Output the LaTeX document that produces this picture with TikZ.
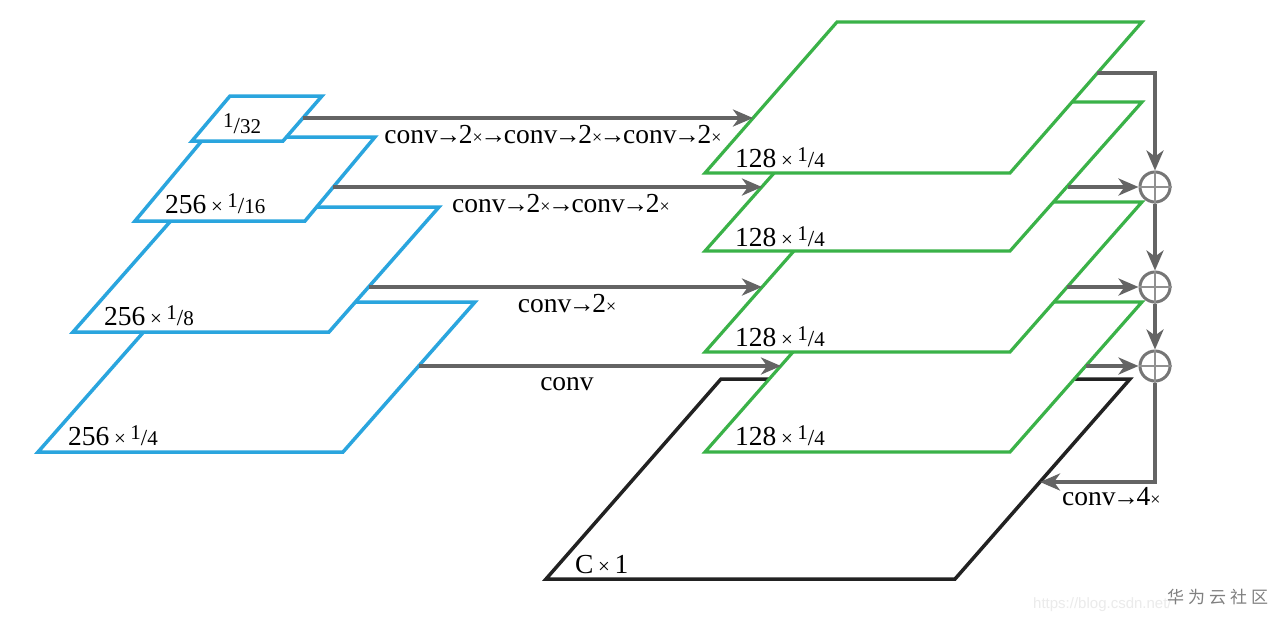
\documentclass[tikz,border=0pt]{standalone}
\usepackage{fontspec}
\setmainfont{Liberation Serif}
\newfontfamily\cjk{Noto Sans CJK SC}
\newfontfamily\wmsans{Liberation Sans}
\usetikzlibrary{arrows.meta}
\definecolor{pblue}{RGB}{42,165,222}
\definecolor{pgreen}{RGB}{58,178,72}
\definecolor{pblack}{RGB}{34,34,34}
\definecolor{agray}{RGB}{100,100,100}
\definecolor{cgray}{RGB}{118,118,118}
\newcommand\fa{\fontsize{27.5}{27.5}\selectfont}
\newcommand\tms{{\fontsize{21}{21}\selectfont ×}}
\newcommand\tmc{{\fontsize{18}{18}\selectfont ×}}
\newcommand\arw{{\fontsize{26}{26}\selectfont\kern-2.5pt→\kern-2.5pt}}
\newcommand\frc[2]{\raisebox{6pt}{\fontsize{21}{21}\selectfont #1}{\fontsize{23}{23}\selectfont /}{\fontsize{21}{21}\selectfont #2}}
\newcommand\dimlab[3]{#1\,\tms\,\frc{#2}{#3}}
\begin{document}
\begin{tikzpicture}[x=1pt,y=-1pt,
  bplane/.style={draw=pblue,line width=3.5pt,fill=white,line join=miter},
  gplane/.style={draw=pgreen,line width=3.2pt,fill=white,line join=miter},
  kplane/.style={draw=pblack,line width=3.5pt,fill=white,line join=miter},
  conn/.style={draw=agray,line width=3.5pt,-{Stealth[length=20pt,width=17pt,inset=6pt]}},
  addnode/.style={circle,draw=cgray,line width=3pt,minimum size=30pt,inner sep=0pt},
  pluslines/.style={draw=cgray!80,line width=1.2pt},
  lab/.style={anchor=base west,inner sep=0pt,font=\fa},
  clab/.style={anchor=base,inner sep=0pt,font=\fa}]
\useasboundingbox (0,0) rectangle (1288,622);
\fill[white] (0,0) rectangle (1288,622);
% blue pyramid
\draw[bplane] (170,302) -- (475,302) -- (343,452) -- (38,452) -- cycle;
\draw[bplane] (183,207) -- (439,207) -- (329,332) -- (73,332) -- cycle;
\draw[bplane] (205,137) -- (375,137) -- (305,221) -- (135,221) -- cycle;
\draw[bplane] (230,96) -- (322,96) -- (283,141) -- (192,141) -- cycle;
% black output plane and green planes
\draw[kplane] (721,379) -- (1130,379) -- (955,579) -- (546,579) -- cycle;
\draw[gplane] (837,302) -- (1142,302) -- (1010,452) -- (705,452) -- cycle;
\draw[gplane] (837,202) -- (1142,202) -- (1010,352) -- (705,352) -- cycle;
\draw[gplane] (837,102) -- (1142,102) -- (1010,251) -- (705,251) -- cycle;
\draw[gplane] (837,22) -- (1142,22) -- (1010,173) -- (705,173) -- cycle;
% labels on planes
\node[lab] (l32) at (223,133) {\frc{1}{32}};
\node[lab] (l16) at (165,213) {\dimlab{256}{1}{16}};
\node[lab] (l8) at (104,325) {\dimlab{256}{1}{8}};
\node[lab] (l4) at (68,445) {\dimlab{256}{1}{4}};
\node[lab] (g1l) at (735,167) {\dimlab{128}{1}{4}};
\node[lab] (g2l) at (735,246) {\dimlab{128}{1}{4}};
\node[lab] (g3l) at (735,346) {\dimlab{128}{1}{4}};
\node[lab] (g4l) at (735,445) {\dimlab{128}{1}{4}};
\node[lab] (kl) at (575,573) {C\,\tms\,1};
% connector end points
\coordinate (a1s) at (303,118); \coordinate (a1e) at (753,118);
\coordinate (a2s) at (333,187); \coordinate (a2e) at (762,187);
\coordinate (a3s) at (369,287); \coordinate (a3e) at (762,287);
\coordinate (a4s) at (419,366); \coordinate (a4e) at (781,366);
\coordinate (o1) at (1097,73); \coordinate (o1c) at (1155,73);
\coordinate (o2) at (1068,187);
\coordinate (o3) at (1067,287);
\coordinate (o4) at (1086,366);
\coordinate (bc) at (1155,482); \coordinate (be) at (1040,482);
% adders
\node[addnode] (c1) at (1155,187) {};
\node[addnode] (c2) at (1155,287) {};
\node[addnode] (c3) at (1155,366) {};
\foreach \c in {c1,c2,c3}{\draw[pluslines] (\c.north) -- (\c.south) (\c.west) -- (\c.east);}
% lateral connectors
\draw[conn] (a1s) -- (a1e);
\draw[conn] (a2s) -- (a2e);
\draw[conn] (a3s) -- (a3e);
\draw[conn] (a4s) -- (a4e);
\draw[conn] (o1) -- (o1c) -- (c1.north);
\draw[conn] (o2) -- (c1.west);
\draw[conn] (o3) -- (c2.west);
\draw[conn] (o4) -- (c3.west);
\draw[conn] (c1.south) -- (c2.north);
\draw[conn] (c2.south) -- (c3.north);
\draw[conn] (c3.south) -- (bc) -- (be);
% connector labels
\node[clab] (t1) at (553,143) {conv\arw2\tmc\arw conv\arw2\tmc\arw conv\arw2\tmc};
\node[clab] (t2) at (561,212) {conv\arw2\tmc\arw conv\arw2\tmc};
\node[clab] (t3) at (567,312) {conv\arw2\tmc};
\node[clab] (t4) at (567,390) {conv};
\node[lab] (t5) at (1062,505) {conv\arw4\tmc};
% watermark
\node[anchor=base west,inner sep=0pt,text=black!8,font=\wmsans\fontsize{15}{15}\selectfont] (wm1) at (1033,608) {https://blog.csdn.net/};
\node[anchor=base west,inner sep=0pt,text=black!50,font=\cjk\fontsize{17}{17}\selectfont] (wm2) at (1167,603) {华\kern4pt 为\kern4pt 云\kern4pt 社\kern4pt 区};
\end{tikzpicture}
\end{document}
